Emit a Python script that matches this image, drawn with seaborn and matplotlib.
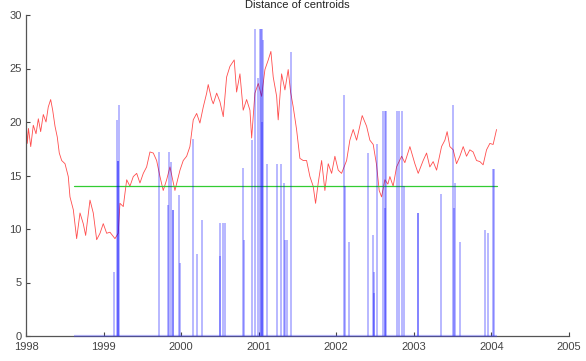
import matplotlib
matplotlib.use("Agg")
import matplotlib.pyplot as plt
import seaborn as sns

# ---- data ----
red_years = [1998.000, 1998.017, 1998.032, 1998.061, 1998.094, 1998.129, 1998.159, 1998.189,
             1998.223, 1998.258, 1998.287, 1998.318, 1998.344, 1998.374, 1998.403, 1998.429,
             1998.460, 1998.503, 1998.545, 1998.567, 1998.610, 1998.653, 1998.696, 1998.738,
             1998.769, 1998.825, 1998.867, 1998.911, 1998.954, 1998.996, 1999.040, 1999.082,
             1999.147, 1999.189, 1999.211, 1999.254, 1999.298, 1999.340, 1999.383, 1999.427,
             1999.469, 1999.512, 1999.555, 1999.598, 1999.641, 1999.684, 1999.727, 1999.769,
             1999.813, 1999.856, 1999.920, 1999.985, 2000.027, 2000.071, 2000.113, 2000.156,
             2000.200, 2000.242, 2000.285, 2000.329, 2000.349, 2000.393, 2000.414, 2000.458,
             2000.500, 2000.543, 2000.586, 2000.629, 2000.684, 2000.715, 2000.758, 2000.800,
             2000.844, 2000.887, 2000.909, 2000.951, 2000.994, 2001.037, 2001.080, 2001.123,
             2001.157, 2001.187, 2001.231, 2001.251, 2001.295, 2001.338, 2001.380, 2001.411,
             2001.445, 2001.488, 2001.531, 2001.574, 2001.617, 2001.660, 2001.702, 2001.733,
             2001.767, 2001.811, 2001.853, 2001.896, 2001.940, 2001.982, 2002.025, 2002.068,
             2002.133, 2002.175, 2002.218, 2002.262, 2002.334, 2002.391, 2002.433, 2002.476,
             2002.519, 2002.553, 2002.584, 2002.626, 2002.665, 2002.691, 2002.733, 2002.777,
             2002.842, 2002.884, 2002.949, 2003.013, 2003.056, 2003.120, 2003.164, 2003.206,
             2003.249, 2003.293, 2003.357, 2003.400, 2003.429, 2003.464, 2003.507, 2003.550,
             2003.593, 2003.636, 2003.679, 2003.722, 2003.764, 2003.808, 2003.851, 2003.893,
             2003.937, 2003.980, 2004.022, 2004.044, 2004.066]
red_values = [20.5, 18.0, 19.4, 17.7, 19.7, 18.9, 20.3, 19.1,
              20.7, 20.0, 21.4, 22.1, 21.1, 19.6, 18.6, 17.1,
              16.4, 16.1, 14.9, 13.0, 11.8, 9.1, 11.5, 10.5,
              9.4, 12.7, 11.5, 9.0, 9.6, 10.5, 9.6, 9.7,
              9.1, 9.6, 12.4, 12.1, 14.6, 14.0, 14.9, 15.2,
              14.3, 15.2, 15.8, 17.2, 17.1, 16.4, 14.9, 13.6,
              14.6, 15.8, 13.6, 15.5, 16.4, 16.8, 17.7, 20.2,
              20.8, 19.9, 21.4, 22.7, 23.5, 22.1, 21.7, 22.7,
              21.9, 20.5, 24.2, 25.2, 25.8, 22.8, 24.5, 21.1,
              22.1, 21.1, 18.5, 22.7, 23.6, 22.4, 24.9, 25.8,
              26.6, 24.2, 22.4, 20.2, 24.5, 23.0, 24.9, 22.8,
              21.4, 19.3, 16.6, 16.4, 16.4, 14.9, 14.0, 12.4,
              14.3, 16.4, 13.6, 16.1, 15.2, 16.8, 15.5, 15.2,
              16.4, 18.3, 19.3, 18.3, 20.6, 19.6, 18.3, 17.9,
              16.0, 13.6, 13.0, 14.6, 14.2, 14.9, 14.0, 15.8,
              16.8, 16.2, 17.7, 16.1, 15.2, 16.4, 17.1, 15.8,
              16.3, 15.5, 17.7, 18.3, 19.1, 17.7, 17.4, 16.1,
              16.8, 17.7, 16.8, 17.4, 17.2, 16.4, 16.3, 16.0,
              17.4, 18.0, 17.9, 18.6, 19.3]

spike_years = [1999.134, 1999.179, 1999.189, 1999.196, 1999.192,
               1999.718, 1999.826, 1999.847, 1999.869, 1999.898, 1999.900, 1999.972, 1999.985,
               2000.148, 2000.208, 2000.268,
               2000.500, 2000.506, 2000.539, 2000.564,
               2000.803, 2000.809, 2000.909, 2000.951, 2000.994,
               2001.016, 2001.032, 2001.048, 2001.058, 2001.040, 2001.102,
               2001.239, 2001.286, 2001.329, 2001.333, 2001.367, 2001.415,
               2002.102, 2002.117, 2002.166,
               2002.411, 2002.476, 2002.491, 2002.486, 2002.519,
               2002.607, 2002.626, 2002.646, 2002.626,
               2002.781, 2002.813, 2002.852, 2002.871,
               2003.056, 2003.058, 2003.348,
               2003.499, 2003.532, 2003.515, 2003.593,
               2003.915, 2003.958, 2004.022, 2004.038]
spike_heights = [6.0, 20.2, 16.4, 21.6, 16.4,
                 17.2, 12.2, 17.2, 16.3, 11.8, 11.8, 13.2, 6.8,
                 18.4, 7.7, 10.8,
                 10.6, 7.5, 10.6, 10.6,
                 15.7, 9.0, 18.3, 28.7, 24.1,
                 28.7, 28.7, 28.7, 27.7, 20.0, 16.1,
                 16.1, 16.1, 14.3, 9.0, 9.0, 26.5,
                 22.5, 14.0, 8.8,
                 17.1, 9.4, 6.0, 4.0, 17.9,
                 21.0, 21.0, 21.0, 12.0,
                 21.0, 21.0, 21.0, 14.0,
                 11.5, 11.5, 13.3,
                 21.6, 14.3, 12.0, 8.8,
                 9.9, 9.6, 15.6, 15.6]

threshold = 14.0
span_start, span_end = 1998.62, 2004.07
x_ticks = [1998, 1999, 2000, 2001, 2002, 2003, 2004, 2005]
y_ticks = [0, 5, 10, 15, 20, 25, 30]

# ---- drawing ----
sns.set_style("ticks")
plt.rcParams['font.family'] = ['Liberation Sans', 'DejaVu Sans']

fig = plt.figure(figsize=(5.86, 3.61), dpi=100)
ax = fig.add_axes([26 / 586, 25 / 361, 543 / 586, 321 / 361])

sns.lineplot(x=red_years, y=red_values, ax=ax, color='#ff2020', lw=0.6,
             alpha=0.8, zorder=2, estimator=None, sort=False)
sns.lineplot(x=[span_start, span_end], y=[threshold, threshold], ax=ax,
             color='#33cc33', lw=0.9, zorder=2.5, estimator=None)
ax.vlines(spike_years, 0, spike_heights, colors='#0000ff', alpha=0.3,
          lw=1.3, zorder=3)
ax.hlines(0, span_start, span_end, colors='#4444ff', alpha=0.35, lw=1.6,
          zorder=4, clip_on=False)

ax.set_xlim(1998, 2005)
ax.set_ylim(0, 30)
ax.set_xticks(x_ticks)
ax.set_yticks(y_ticks)
ax.set_xticklabels([str(t) for t in x_ticks])
ax.set_yticklabels([str(t) for t in y_ticks])
ax.tick_params(direction='in', length=3, width=0.8, colors='#444444',
               labelsize=8)
ax.tick_params(axis='x', pad=4)
ax.tick_params(axis='y', pad=3)
for s in ['left', 'bottom']:
    ax.spines[s].set_color('#555555')
    ax.spines[s].set_linewidth(0.9)
sns.despine(ax=ax)
ax.set_xlabel('')
ax.set_ylabel('')
ax.set_title('Distance of centroids', fontsize=8, pad=5, color='#222222')

fig.savefig('out.png', dpi=100)
